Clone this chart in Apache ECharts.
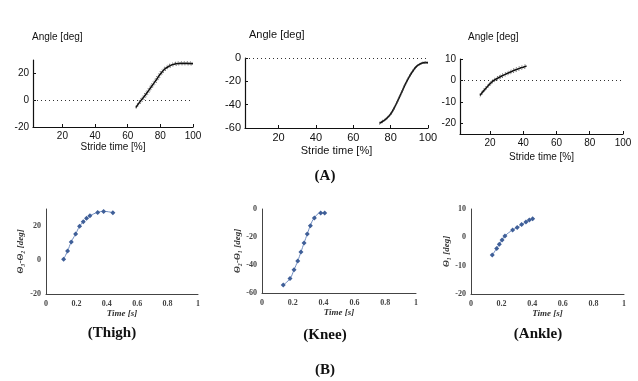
<!DOCTYPE html>
<html>
<head>
<meta charset="utf-8">
<script src="https://cdn.jsdelivr.net/npm/echarts@6/dist/echarts.min.js"></script>
<style>
html,body{margin:0;padding:0;background:#fff;}
#c{width:638px;height:381px;}
</style>
</head>
<body>
<div id="c"></div>
<script>
// ---- Panel A (stride time %, angle deg) ----
const strideTicks = [20, 40, 60, 80, 100];

const a1X = [65, 67, 70, 73, 75, 78, 80, 83, 86, 89, 92, 96, 100];
const a1Y = [-5.5, -2, 2.5, 7.5, 11, 16, 19.5, 23.5, 25.8, 27, 27.5, 27.5, 27.3];
const a1Up = [-4.5, -0.5, 4.5, 9.5, 13, 18, 21.5, 25, 27, 28.2, 28.6, 28.6, 28.4];
const a1Lo = [-6.5, -3.5, 0.5, 5.5, 9, 14, 17.5, 22, 24.6, 25.8, 26.4, 26.4, 26.2];
const a1YTicks = [-20, 0, 20];

const a2X = [74, 76, 78, 80, 82, 84, 86, 88, 90, 92, 94, 96, 98, 100];
const a2Y = [-56, -54, -51.5, -48, -42.5, -36, -29, -22, -16, -11, -7, -5, -4, -4];
const a2Up = [-55, -53, -50.5, -47, -41.5, -35, -28, -21, -15, -10, -6.2, -4.3, -3.4, -3.4];
const a2Lo = [-57, -55, -52.5, -49, -43.5, -37, -30, -23, -17, -12, -7.8, -5.7, -4.6, -4.6];

const a3X = [14, 16, 18, 20, 22, 24, 26, 28, 30, 32, 34, 36, 38, 40, 42];
const a3Y = [-7, -5, -3.3, -1.6, -0.2, 0.8, 1.6, 2.4, 3.1, 3.8, 4.5, 5.1, 5.7, 6.2, 6.7];
const a3Up = [-6.2, -4.2, -2.5, -0.8, 0.6, 1.6, 2.4, 3.2, 3.9, 4.6, 5.3, 5.9, 6.5, 7.0, 7.5];
const a3Lo = [-7.8, -5.8, -4.1, -2.4, -1.0, 0.0, 0.8, 1.6, 2.3, 3.0, 3.7, 4.3, 4.9, 5.4, 5.9];
const a3YTicks = [-20, -10, 0, 10];

// ---- Panel B (time s, angle deg) ----
const thighX = [0.116, 0.142, 0.166, 0.195, 0.221, 0.245, 0.267, 0.289, 0.34, 0.379, 0.44];
const thighY = [0.5, 5.3, 10.6, 15.3, 19.8, 22.5, 24.5, 26, 28, 28.6, 27.8];
const thighYTicks = [-20, 0, 20];

const kneeX = [0.138, 0.182, 0.208, 0.232, 0.253, 0.273, 0.294, 0.314, 0.34, 0.381, 0.407];
const kneeY = [-54.3, -49.6, -43.4, -37.1, -30.7, -24.3, -17.9, -11.9, -6.4, -2.9, -2.9];

const ankleX = [0.139, 0.168, 0.185, 0.203, 0.222, 0.272, 0.302, 0.331, 0.359, 0.381, 0.403];
const ankleY = [-6.25, -3.9, -2.4, -0.95, 0.5, 2.6, 3.5, 4.5, 5.4, 6.1, 6.6];

const pairs = (xs, ys) => xs.map((x, i) => [x, ys[i]]);

const SANS = '"Liberation Sans", Arial, sans-serif';
const SERIF = '"Liberation Serif", "Times New Roman", serif';

const grids = [
  {left: 33, top: 60, width: 160, height: 67},
  {left: 245, top: 58, width: 183, height: 70},
  {left: 460, top: 59, width: 163, height: 75},
  {left: 46, top: 209, width: 152, height: 85},
  {left: 262, top: 209, width: 154, height: 84},
  {left: 471, top: 209, width: 153, height: 85}
].map(g => Object.assign({outerBoundsMode: 'none', containLabel: false}, g));

function aX(idx, fs, gap) {
  return {
    type: 'value', gridIndex: idx, min: 2, max: 100,
    axisLine: {onZero: false, lineStyle: {color: '#111', width: 1.2}},
    axisTick: {inside: true, length: 3, customValues: strideTicks, lineStyle: {color: '#111'}},
    axisLabel: {customValues: strideTicks, margin: 4, fontSize: fs, fontFamily: SANS, color: '#111'},
    splitLine: {show: false},
    name: 'Stride time [%]', nameLocation: 'middle', nameGap: gap,
    nameTextStyle: {fontSize: fs, fontFamily: SANS, color: '#111'}
  };
}
function aY(idx, min, max, ticks, fs) {
  return {
    type: 'value', gridIndex: idx, min: min, max: max,
    axisLine: {show: true, onZero: false, lineStyle: {color: '#111', width: 1.2}},
    axisTick: {show: true, inside: true, length: 3, customValues: ticks, lineStyle: {color: '#111'}},
    axisLabel: {customValues: ticks, margin: 4, fontSize: fs, fontFamily: SANS, color: '#111'},
    splitLine: {show: false}
  };
}
function bX(idx) {
  return {
    type: 'value', gridIndex: idx, min: 0, max: 1, interval: 0.2,
    axisLine: {onZero: false, lineStyle: {color: '#444', width: 1}},
    axisTick: {show: false},
    axisLabel: {margin: 6, fontSize: 8, fontWeight: 'bold', fontFamily: SERIF, color: '#444'},
    splitLine: {show: false},
    name: 'Time [s]', nameLocation: 'middle', nameGap: 14,
    nameTextStyle: {fontSize: 9, fontStyle: 'italic', fontWeight: 'bold', fontFamily: SERIF, color: '#333'}
  };
}
function bY(idx, min, max, ticks, name, gap) {
  return {
    type: 'value', gridIndex: idx, min: min, max: max,
    axisLine: {show: true, onZero: false, lineStyle: {color: '#444', width: 1}},
    axisTick: {show: false},
    axisLabel: {customValues: ticks, margin: 5, fontSize: 8, fontWeight: 'bold', fontFamily: SERIF, color: '#444'},
    splitLine: {show: false},
    name: name, nameLocation: 'middle', nameGap: gap, nameRotate: 90,
    nameTextStyle: {fontSize: 9, fontStyle: 'italic', fontWeight: 'bold', fontFamily: SERIF, color: '#333'}
  };
}

const zeroLine = {
  silent: true, symbol: 'none', label: {show: false},
  lineStyle: {type: [1, 3], color: '#333', width: 1},
  data: [{yAxis: 0}]
};

function aMain(idx, xs, ys, mark) {
  const s = {
    type: 'line', xAxisIndex: idx, yAxisIndex: idx, data: pairs(xs, ys),
    smooth: true, showSymbol: false, lineStyle: {color: '#111', width: 1.6}, z: 3
  };
  if (mark) s.markLine = zeroLine;
  return s;
}
function aSd(idx, xs, ys) {
  return {
    type: 'line', xAxisIndex: idx, yAxisIndex: idx, data: pairs(xs, ys),
    smooth: true, showSymbol: false, lineStyle: {color: '#555', width: 1, type: [1, 2]}
  };
}
function bSeries(idx, xs, ys) {
  return {
    type: 'line', xAxisIndex: idx, yAxisIndex: idx, data: pairs(xs, ys),
    smooth: true, symbol: 'diamond', symbolSize: 5,
    itemStyle: {color: '#3f5f98'},
    lineStyle: {color: '#6f8cc0', width: 1}
  };
}

const txt = (x, y, text, font, align) => ({
  type: 'text', x: x, y: y,
  style: {text: text, font: font, fill: '#111', textAlign: align || 'center', textVerticalAlign: 'middle'}
});

const option = {
  animation: false,
  backgroundColor: '#fff',
  grid: grids,
  xAxis: [aX(0, 10, 15), aX(1, 11, 17), aX(2, 10, 18), bX(3), bX(4), bX(5)],
  yAxis: [
    aY(0, -20, 30, a1YTicks, 10),
    Object.assign(aY(1, -60, 0, null, 11), {interval: 20, axisLabel: {margin: 4, fontSize: 11, fontFamily: SANS, color: '#111'}, axisTick: {show: true, inside: true, length: 3, lineStyle: {color: '#111'}}}),
    aY(2, -25, 10, a3YTicks, 10),
    bY(3, -20, 30, thighYTicks, 'Θ₃-Θ₂ [deg]', 21),
    Object.assign(bY(4, -60, 0, null, 'Θ₂-Θ₁ [deg]', 18), {interval: 20}),
    Object.assign(bY(5, -20, 10, null, 'Θ₁ [deg]', 19), {interval: 10})
  ],
  series: [
    aMain(0, a1X, a1Y, true), aSd(0, a1X, a1Up), aSd(0, a1X, a1Lo),
    aMain(1, a2X, a2Y, true), aSd(1, a2X, a2Up), aSd(1, a2X, a2Lo),
    aMain(2, a3X, a3Y, true), aSd(2, a3X, a3Up), aSd(2, a3X, a3Lo),
    bSeries(3, thighX, thighY),
    bSeries(4, kneeX, kneeY),
    bSeries(5, ankleX, ankleY)
  ],
  graphic: [
    txt(32, 37, 'Angle [deg]', '10px ' + SANS, 'left'),
    txt(249, 35, 'Angle [deg]', '11px ' + SANS, 'left'),
    txt(468, 37, 'Angle [deg]', '10px ' + SANS, 'left'),
    txt(325, 176, '(A)', 'bold 15px ' + SERIF),
    txt(112, 333, '(Thigh)', 'bold 15px ' + SERIF),
    txt(325, 335, '(Knee)', 'bold 15px ' + SERIF),
    txt(538, 334, '(Ankle)', 'bold 15px ' + SERIF),
    txt(325, 370, '(B)', 'bold 15px ' + SERIF)
  ]
};

// remove null customValues
option.yAxis.forEach(a => {
  if (a.axisLabel && a.axisLabel.customValues == null) delete a.axisLabel.customValues;
  if (a.axisTick && a.axisTick.customValues == null) delete a.axisTick.customValues;
});

const chart = echarts.init(document.getElementById('c'));
chart.setOption(option);
</script>
</body>
</html>
